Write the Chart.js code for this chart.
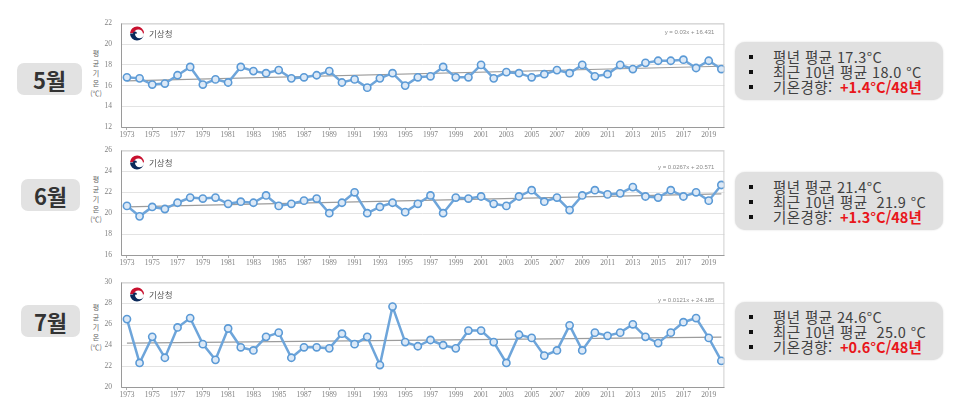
<!DOCTYPE html>
<html lang="ko">
<head>
<meta charset="UTF-8">
<title>5~7월 평균기온 변화</title>
<script src="https://cdn.jsdelivr.net/npm/chart.js"></script>
<style>
    body {
        margin: 0;
        width: 960px;
        height: 399px;
        overflow: hidden;
        background: #fff;
        font-family: "Noto Sans CJK KR", "Noto Sans", sans-serif;
        position: relative;
    }
    .chart-wrap {
        position: absolute;
        left: 85px;
        width: 645px;
    }
    .month-box {
        position: absolute;
        background: #e2e2e2;
        border-radius: 7px;
        color: #333;
        font-weight: bold;
        font-size: 22px;
        text-align: center;
        line-height: 32px;
        height: 32px;
    }
    .axis-title {
        position: absolute;
        left: 88px;
        width: 16px;
        text-align: center;
        font-size: 7px;
        line-height: 10px;
        color: #666;
    }
    .info-box {
        position: absolute;
        left: 735px;
        width: 208px;
        height: 58px;
        background: #e0e0e0;
        border-radius: 10px;
        box-shadow: 0 0 2px rgba(0,0,0,0.15);
        color: #404040;
        font-size: 14.5px;
        letter-spacing: 0.4px;
        line-height: 15px;
    }
    .info-box ul {
        margin: 0;
        padding: 7px 0 0 0;
        list-style: none;
    }
    .info-box li {
        position: relative;
        padding-left: 38px;
        white-space: nowrap;
    }
    .info-box li::before {
        content: "";
        position: absolute;
        left: 14px;
        top: 6px;
        width: 4px;
        height: 4px;
        background: #111;
    }
    .red { color: #e8161b; font-weight: bold; letter-spacing: 0; margin-left: 3px; }
</style>
</head>
<body>

<div class="month-box" style="left:17px; top:63px; width:65px;">5월</div>
<div class="month-box" style="left:21px; top:179px; width:59px;">6월</div>
<div class="month-box" style="left:21px; top:305px; width:59px;">7월</div>

<div class="axis-title" style="top:48px;">평<br>균<br>기<br>온<br>(℃)</div>
<div class="axis-title" style="top:174px;">평<br>균<br>기<br>온<br>(℃)</div>
<div class="axis-title" style="top:302px;">평<br>균<br>기<br>온<br>(℃)</div>

<div class="chart-wrap" style="top:10px; height:133px;"><canvas id="chartMay"></canvas></div>
<div class="chart-wrap" style="top:137px; height:134px;"><canvas id="chartJun"></canvas></div>
<div class="chart-wrap" style="top:269px; height:134px;"><canvas id="chartJul"></canvas></div>

<div class="info-box" style="top:42px;">
    <ul>
        <li>평년 평균 17.3°C</li>
        <li>최근 10년 평균 18.0 °C</li>
        <li>기온경향: <span class="red">+1.4°C/48년</span></li>
    </ul>
</div>
<div class="info-box" style="top:172px;">
    <ul>
        <li>평년 평균 21.4°C</li>
        <li>최근 10년 평균&nbsp; 21.9 °C</li>
        <li>기온경향: <span class="red">+1.3°C/48년</span></li>
    </ul>
</div>
<div class="info-box" style="top:302px;">
    <ul>
        <li>평년 평균 24.6°C</li>
        <li>최근 10년 평균&nbsp; 25.0 °C</li>
        <li>기온경향: <span class="red">+0.6°C/48년</span></li>
    </ul>
</div>

<script>
    // 연도 (1973 ~ 2020)
    const years = [1973, 1974, 1975, 1976, 1977, 1978, 1979, 1980, 1981, 1982,
                   1983, 1984, 1985, 1986, 1987, 1988, 1989, 1990, 1991, 1992,
                   1993, 1994, 1995, 1996, 1997, 1998, 1999, 2000, 2001, 2002,
                   2003, 2004, 2005, 2006, 2007, 2008, 2009, 2010, 2011, 2012,
                   2013, 2014, 2015, 2016, 2017, 2018, 2019, 2020];

    // 5월 평균기온
    const mayTemps = [16.8, 16.7, 16.1, 16.2, 17.0, 17.8, 16.1, 16.6, 16.3, 17.8,
                      17.4, 17.2, 17.5, 16.7, 16.8, 17.0, 17.4, 16.3, 16.6, 15.8,
                      16.7, 17.2, 16.0, 16.8, 16.9, 17.8, 16.8, 16.8, 18.0, 16.7,
                      17.3, 17.2, 16.8, 17.1, 17.5, 17.2, 18.0, 16.9, 17.1, 18.0,
                      17.6, 18.2, 18.4, 18.4, 18.5, 17.7, 18.4, 17.6];

    // 6월 평균기온
    const junTemps = [20.7, 19.7, 20.6, 20.4, 21.0, 21.5, 21.4, 21.5, 20.9, 21.1,
                      21.0, 21.7, 20.7, 20.9, 21.2, 21.4, 20.0, 21.0, 22.0, 20.0,
                      20.6, 21.0, 20.1, 20.9, 21.7, 20.0, 21.5, 21.4, 21.6, 20.9,
                      20.7, 21.6, 22.2, 21.1, 21.5, 20.3, 21.7, 22.2, 21.8, 21.9,
                      22.5, 21.6, 21.5, 22.2, 21.6, 22.0, 21.2, 22.7];

    // 7월 평균기온
    const julTemps = [26.5, 22.3, 24.8, 22.8, 25.7, 26.6, 24.1, 22.6, 25.6, 23.8,
                      23.5, 24.8, 25.2, 22.8, 23.8, 23.8, 23.7, 25.1, 24.1, 24.8,
                      22.1, 27.7, 24.3, 23.9, 24.5, 24.0, 23.7, 25.4, 25.4, 24.3,
                      22.3, 25.0, 24.7, 23.0, 23.5, 25.9, 23.5, 25.2, 24.9, 25.2,
                      26.0, 24.8, 24.2, 25.2, 26.2, 26.6, 24.7, 22.5];

    // 추세선 양 끝값 (1973, 2020)
    const mayTrend = [16.46, 17.87];
    const junTrend = [20.60, 21.85];
    const julTrend = [24.20, 24.77];

    const trendYears = [1973, 2020];
    const xTickYears = years.filter((y, i) => i % 2 === 0);

    const mayEquation = 'y = 0.03x + 16.431';
    const junEquation = 'y = 0.0267x + 20.571';
    const julEquation = 'y = 0.0121x + 24.185';

    // 기상청 로고 + 추세식 + 테두리
    const decorPlugin = {
        id: 'decor',
        afterDraw(chart, args, opts) {
            const ctx = chart.ctx;
            const a = chart.chartArea;
            ctx.save();
            // plot border
            ctx.strokeStyle = '#cfcfcf';
            ctx.lineWidth = 1;
            ctx.strokeRect(a.left + 0.5, a.top + 0.5, a.right - a.left - 1, a.bottom - a.top);
            ctx.strokeStyle = '#9a9a9a';
            ctx.beginPath();
            ctx.moveTo(a.left + 0.5, a.top);
            ctx.lineTo(a.left + 0.5, a.bottom + 0.5);
            ctx.lineTo(a.right, a.bottom + 0.5);
            ctx.stroke();

            // logo
            const cx = a.left + 16, cy = a.top + opts.logoY, r = 7;
            ctx.fillStyle = '#c8102e';
            ctx.beginPath();
            ctx.arc(cx, cy, r, Math.PI * 1.02, Math.PI * 1.98);
            ctx.arc(cx + 1.5, cy + 0.5, r - 2.5, Math.PI * 1.98, Math.PI * 1.05, true);
            ctx.closePath();
            ctx.fill();
            ctx.fillStyle = '#0b2a5b';
            ctx.beginPath();
            ctx.arc(cx, cy, r, Math.PI * 0.0, Math.PI * 1.0);
            ctx.arc(cx - 2, cy, r - 5, Math.PI, 0, false);
            ctx.arc(cx + 2.5, cy + 0.3, r - 2.5, Math.PI, 0, true);
            ctx.closePath();
            ctx.fill();

            ctx.fillStyle = '#555';
            ctx.font = '8.5px "Noto Sans CJK KR"';
            ctx.textBaseline = 'middle';
            ctx.textAlign = 'left';
            ctx.fillText('기상청', cx + 12, cy);

            // equation
            ctx.fillStyle = '#8a8a8a';
            ctx.font = '6px "Liberation Sans"';
            ctx.textAlign = 'right';
            ctx.fillText(opts.equation, a.right - 10, a.top + opts.eqY);
            ctx.restore();
        }
    };

    function makeChart(id, temps, trend, yMin, yMax, equation, logoY, eqY) {
        const tempPoints = years.map((yr, i) => ({ x: yr, y: temps[i] }));
        const trendPoints = trendYears.map((yr, i) => ({ x: yr, y: trend[i] }));
        return new Chart(document.getElementById(id), {
            type: 'line',
            data: {
                datasets: [
                    {
                        label: '평균기온',
                        data: tempPoints,
                        borderColor: '#6ea5da',
                        borderWidth: 2.5,
                        pointRadius: 3.6,
                        pointBackgroundColor: '#dce9f7',
                        pointBorderColor: '#5b9ad6',
                        pointBorderWidth: 1.6,
                        tension: 0,
                        order: 1
                    },
                    {
                        label: '추세선',
                        data: trendPoints,
                        borderColor: '#9c9c9c',
                        borderWidth: 1.2,
                        pointRadius: 0,
                        order: 2
                    }
                ]
            },
            options: {
                responsive: true,
                maintainAspectRatio: false,
                animation: false,
                layout: { padding: { top: 10, right: 5, left: 0, bottom: 0 } },
                plugins: {
                    legend: { display: false },
                    tooltip: { enabled: false },
                    decor: { equation: equation, logoY: logoY, eqY: eqY }
                },
                scales: {
                    x: {
                        type: 'linear',
                        min: 1972.53,
                        max: 2020.24,
                        afterBuildTicks: (scale) => {
                            scale.ticks = xTickYears.map(v => ({ value: v }));
                        },
                        afterFit: (scale) => { scale.height = 16; },
                        border: { display: false },
                        grid: { drawOnChartArea: false, drawTicks: true, tickLength: 3, color: '#b0b0b0' },
                        ticks: {
                            autoSkip: false,
                            maxRotation: 0,
                            padding: 1,
                            color: '#808080',
                            font: { family: 'Liberation Serif', size: 7.5 },
                            callback: (v) => String(v)
                        }
                    },
                    y: {
                        min: yMin,
                        max: yMax,
                        afterFit: (scale) => { scale.width = 36; },
                        border: { display: false },
                        grid: { color: '#e3e3e3', drawTicks: false },
                        ticks: {
                            stepSize: 2,
                            padding: 9,
                            color: '#808080',
                            font: { family: 'Liberation Serif', size: 7.5 }
                        }
                    }
                }
            },
            plugins: [decorPlugin]
        });
    }

    makeChart('chartMay', mayTemps, mayTrend, 12, 22, mayEquation, 10, 9);
    makeChart('chartJun', junTemps, junTrend, 16, 26, junEquation, 12, 17);
    makeChart('chartJul', julTemps, julTrend, 20, 30, julEquation, 12, 18);
</script>
</body>
</html>
